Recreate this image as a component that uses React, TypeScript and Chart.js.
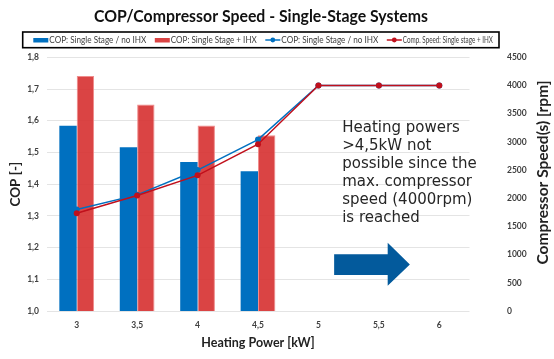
import React, { useEffect, useRef } from 'react';
import { Chart, registerables } from 'chart.js';

Chart.register(...registerables);

const chartTitle = 'COP/Compressor Speed - Single-Stage Systems';
const categories = ['3', '3,5', '4', '4,5', '5', '5,5', '6'];
const copNoIhx = [1.584, 1.516, 1.47, 1.441, null, null, null];
const copIhx = [1.741, 1.651, 1.585, 1.554, null, null, null];
const speedNoIhx = [1800, 2060, 2500, 3040, 4000, 4000, 4000];
const speedIhx = [1735, 2050, 2406, 2959, 4000, 4000, 4000];
const seriesLabels = [
  'COP: Single Stage / no IHX',
  'COP: Single Stage + IHX',
  'COP: Single Stage / no IHX',
  'Comp. Speed: Single stage + IHX',
];
const copMin = 1.0;
const copMax = 1.8;
const copStep = 0.1;
const speedMin = 0;
const speedMax = 4500;
const speedStep = 500;
const xTitle = 'Heating Power [kW]';
const yTitle = 'COP [-]';
const y1Title = 'Compressor Speed(s) [rpm]';
const noteLines = [
  'Heating powers',
  '>4,5kW not',
  'possible since the',
  'max. compressor',
  'speed (4000rpm)',
  'is reached',
];

const BLUE = '#0070c0';
const RED_BAR = 'rgba(214, 48, 48, 0.9)';
const RED_BAR_BORDER = 'rgba(240, 140, 140, 1)';
const RED_LINE = '#c0101c';
const ARROW = '#035a9c';
const TICK = '#404040';

// legend label widths (layout, matched to the reference's condensed font)
const legendTextWidths = [97, 86, 97, 90];

function fitText(ctx: CanvasRenderingContext2D, text: string, x: number, y: number, width: number) {
  const mw = ctx.measureText(text).width;
  ctx.save();
  ctx.translate(x, y);
  ctx.scale(width / mw, 1);
  ctx.fillText(text, 0, 0);
  ctx.restore();
}

const overlay = {
  id: 'overlay',
  afterDraw(chart: any) {
    const ctx = chart.ctx as CanvasRenderingContext2D;
    const ca = chart.chartArea;
    const W = ca.right - ca.left;
    ctx.save();
    // Title
    ctx.font = 'bold 17.5px Lato';
    ctx.fillStyle = '#111';
    ctx.textAlign = 'center';
    ctx.textBaseline = 'middle';
    fitText(ctx, chartTitle, 261, 16, 334);

    // Legend box
    ctx.lineWidth = 1.6;
    ctx.strokeStyle = '#000';
    ctx.strokeRect(22.7, 32, 476.3, 15.7);
    ctx.font = '9px Lato';
    ctx.textAlign = 'left';
    let x = 33.3;
    const ly = 40;
    const kinds = ['bar', 'bar', 'line', 'line'];
    const colors = [BLUE, RED_BAR, BLUE, RED_LINE];
    seriesLabels.forEach((lab, i) => {
      if (kinds[i] === 'bar') {
        ctx.fillStyle = colors[i];
        ctx.fillRect(x, ly - 2, 15, 4.5);
      } else {
        ctx.strokeStyle = colors[i];
        ctx.lineWidth = 1.5;
        ctx.beginPath();
        ctx.moveTo(x, ly);
        ctx.lineTo(x + 15, ly);
        ctx.stroke();
        ctx.fillStyle = colors[i];
        ctx.beginPath();
        ctx.arc(x + 7.5, ly, 2.4, 0, Math.PI * 2);
        ctx.fill();
      }
      x += 16;
      ctx.fillStyle = TICK;
      fitText(ctx, lab, x, ly + 0.5, legendTextWidths[i]);
      x += legendTextWidths[i] + 8.5;
    });

    // Right axis title (reads bottom-to-top)
    ctx.save();
    ctx.font = 'bold 15.5px Lato';
    ctx.fillStyle = '#222';
    ctx.textAlign = 'center';
    ctx.textBaseline = 'middle';
    ctx.translate(543, 172.5);
    ctx.rotate(-Math.PI / 2);
    ctx.fillText(y1Title, 0, 0);
    ctx.restore();

    // Note text
    ctx.font = '15px "DejaVu Sans"';
    ctx.fillStyle = '#262626';
    ctx.textAlign = 'left';
    ctx.textBaseline = 'middle';
    const tx = ca.left + W * 0.699;
    noteLines.forEach((line, i) => {
      ctx.fillText(line, tx, 127.7 + i * 18);
    });

    // Arrow
    const ax0 = ca.left + W * 0.68;
    const ax1 = ca.left + W * 0.859;
    const axh = ca.left + W * 0.8066;
    ctx.fillStyle = ARROW;
    ctx.beginPath();
    ctx.moveTo(ax0, 254.3);
    ctx.lineTo(axh, 254.3);
    ctx.lineTo(axh, 242.7);
    ctx.lineTo(ax1, 264.5);
    ctx.lineTo(axh, 285.7);
    ctx.lineTo(axh, 275);
    ctx.lineTo(ax0, 275);
    ctx.closePath();
    ctx.fill();
    ctx.restore();
  },
};

export default function App() {
  const ref = useRef<HTMLCanvasElement | null>(null);
  useEffect(() => {
    document.body.style.margin = '0';
    const canvas = ref.current!;
    const chart = new Chart(canvas, {
      type: 'bar',
      data: {
        labels: categories,
        datasets: [
          {
            type: 'line',
            label: seriesLabels[3],
            data: speedIhx,
            yAxisID: 'y1',
            borderColor: RED_LINE,
            backgroundColor: RED_LINE,
            borderWidth: 1.5,
            pointRadius: 3,
            pointBorderWidth: 0,
            tension: 0,
            order: 0,
          } as any,
          {
            type: 'line',
            label: seriesLabels[2],
            data: speedNoIhx,
            yAxisID: 'y1',
            borderColor: BLUE,
            backgroundColor: BLUE,
            borderWidth: 1.5,
            pointRadius: 3,
            pointBorderWidth: 0,
            tension: 0,
            order: 1,
          } as any,
          {
            type: 'bar',
            label: seriesLabels[0],
            data: copNoIhx,
            yAxisID: 'y',
            backgroundColor: BLUE,
            borderWidth: 0,
            barPercentage: 1,
            categoryPercentage: 0.575,
            order: 2,
          } as any,
          {
            type: 'bar',
            label: seriesLabels[1],
            data: copIhx,
            yAxisID: 'y',
            backgroundColor: RED_BAR,
            borderColor: RED_BAR_BORDER,
            borderWidth: 1,
            barPercentage: 1,
            categoryPercentage: 0.575,
            order: 2,
          } as any,
        ],
      },
      options: {
        animation: false,
        responsive: false,
        layout: { padding: { top: 57.3, left: 0, right: 0, bottom: 0 } },
        plugins: {
          legend: { display: false },
          title: { display: false },
          tooltip: { enabled: false },
        },
        scales: {
          x: {
            grid: { display: false, drawTicks: false },
            border: { display: false },
            ticks: {
              color: TICK,
              font: { family: 'Lato', size: 8.5, weight: 'bold' },
              padding: 9,
            },
            title: {
              display: true,
              text: xTitle,
              color: '#222',
              font: { family: 'Lato', size: 12.5, weight: 'bold' },
              padding: { top: 0, bottom: 8.6 },
            },
            afterFit: (s: any) => {
              s.height = 48;
            },
          },
          y: {
            position: 'left',
            min: copMin,
            max: copMax,
            grid: { color: '#e4e4e4', lineWidth: 1, drawTicks: false },
            border: { display: false },
            ticks: {
              stepSize: copStep,
              color: TICK,
              padding: 7.5,
              font: { family: 'Lato', size: 8.5, weight: 'bold' },
              callback: (v: any) => Number(v).toFixed(1).replace('.', ','),
            },
            title: {
              display: true,
              text: yTitle,
              color: '#222',
              font: { family: 'Lato', size: 13.5, weight: 'bold' },
              padding: { top: 7.6, bottom: 0 },
            },
            afterFit: (s: any) => {
              s.width = 46.5;
            },
          },
          y1: {
            position: 'right',
            min: speedMin,
            max: speedMax,
            grid: { display: false, drawTicks: false },
            border: { display: false },
            ticks: {
              stepSize: speedStep,
              color: TICK,
              padding: 37.5,
              font: { family: 'Lato', size: 8.5, weight: 'bold' },
              callback: (v: any) => String(v),
            },
            title: { display: false },
            afterFit: (s: any) => {
              s.width = 84.5;
            },
          },
        },
      } as any,
      plugins: [overlay],
    });
    return () => chart.destroy();
  }, []);
  return (
    <div style={{ width: 554, height: 359, background: '#fff' }}>
      <canvas ref={ref} width={554} height={359} style={{ display: 'block' }} />
    </div>
  );
}
